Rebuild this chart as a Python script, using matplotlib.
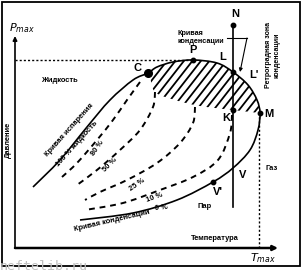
import numpy as np
import matplotlib
matplotlib.use('Agg')
import matplotlib.pyplot as plt
from matplotlib.patches import Rectangle, PathPatch
from matplotlib.path import Path

plt.rcParams['font.family'] = ['Liberation Sans', 'DejaVu Sans']

# phase envelope (T, P) in arbitrary units
env_T = [18, 45, 72, 95, 118, 133, 142, 158, 178, 202, 218, 233, 242, 245,
         243, 235, 218, 198, 162, 118, 65]
env_P = [61, 88, 121, 148, 168, 175, 181, 186, 188, 185, 176, 163, 148, 135,
         118, 98, 80, 66, 48, 35, 28]

# lower edge of retrograde (hatched) zone
retro_T = [135, 140, 160, 185, 218, 244]
retro_P = [172, 156, 148, 142, 138, 135]

# quality lines, % liquid
q80_T = [125, 112, 98, 82, 62, 47]
q80_P = [166, 148, 128, 108, 85, 71]
q50_T = [140, 138, 125, 105, 82, 62]
q50_P = [156, 141, 118, 98, 78, 63]
q25_T = [180, 178, 165, 142, 112, 85, 70]
q25_P = [141, 125, 105, 85, 68, 56, 48]
q10_T = [217, 215, 203, 178, 145, 108, 70]
q10_P = [133, 115, 88, 71, 58, 45, 38]

# points
pts = {'C': (133, 175), 'P': (178, 188), 'N': (218, 223), 'L': (218, 176),
       'K': (218, 138), 'M': (245, 135), "V'": (198, 66)}
T_iso = 218
P_iso = (223, 41)
P_max = 188
T_max = 244


def smooth(T, P):
    # cubic bezier path through the given points (Catmull-Rom style handles)
    p = np.column_stack([T, P]).astype(float)
    verts = [p[0]]
    codes = [Path.MOVETO]
    for i in range(len(p) - 1):
        a = p[i - 1] if i > 0 else p[i]
        b, c = p[i], p[i + 1]
        d = p[i + 2] if i + 2 < len(p) else p[i + 1]
        verts += [b + (c - a) / 6, c - (d - b) / 6, c]
        codes += [Path.CURVE4] * 3
    return Path(verts, codes)


fig = plt.figure(figsize=(3.03, 2.73), dpi=100)
ax = fig.add_axes([0, 0, 1, 1])
ax.set_xlim(-15, 288)
ax.set_ylim(-25, 248)
ax.axis('off')

# frame
ax.add_patch(Rectangle((-13, -18), 298, 264, fill=False, lw=1.3, ec='black'))

# axes arrows
ax.annotate('', xy=(263, 0), xytext=(0, 0),
            arrowprops=dict(arrowstyle='-|>', lw=1.8, color='black',
                            mutation_scale=7, shrinkA=0, shrinkB=0))
ax.annotate('', xy=(0, 212), xytext=(0, 0),
            arrowprops=dict(arrowstyle='-|>', lw=1.2, color='black',
                            mutation_scale=6, shrinkA=0, shrinkB=0))

# dotted max lines
ax.plot([0, pts['P'][0]], [P_max, P_max], ls=(0, (1.5, 1.5)), lw=1.0, color='black')
ax.plot([T_max, T_max], [0, pts['M'][1]], ls=(0, (1.5, 1.5)), lw=1.0, color='black')

# hatched retrograde zone: diagonal strokes clipped to the region
i0 = env_T.index(133)
i1 = env_T.index(245)
up = smooth(env_T[i0:i1 + 1], env_P[i0:i1 + 1])
lo = smooth(retro_T[::-1], retro_P[::-1])
hv = np.vstack([up.vertices, lo.vertices[1:], up.vertices[:1]])
hc = list(up.codes) + list(lo.codes[1:]) + [Path.CLOSEPOLY]
zone = PathPatch(Path(hv, hc), fill=False, lw=0)
ax.add_patch(zone)
slope = np.tan(np.radians(52))
for c in np.arange(40, 260, 8.5):
    ln, = ax.plot([c, c + 80 / slope], [120, 200], color='black', lw=1.3)
    ln.set_clip_path(zone)

# envelope
ax.add_patch(PathPatch(smooth(env_T, env_P), fill=False, ec='black', lw=1.2))

# quality lines
for qt, qp in [(q80_T, q80_P), (q50_T, q50_P), (q25_T, q25_P), (q10_T, q10_P)]:
    ax.add_patch(PathPatch(smooth(qt, qp), fill=False, ec='black', lw=1.4,
                           ls=(0, (3, 2.5))))

# isotherm N-V
ax.plot([T_iso, T_iso], P_iso, color='black', lw=1.2)

# markers
for k, (t, p) in pts.items():
    ax.plot(t, p, 'o', color='black', ms=5.5 if k == 'C' else 3.2)

# point labels
lab = dict(fontsize=8, fontweight='bold', ha='center', va='center')
ax.text(123, 180, 'C', **lab)
ax.text(178, 198, 'P', **lab)
ax.text(220, 234, 'N', **lab)
ax.text(208, 191, 'L', **lab)
ax.text(239, 173, "L'", **lab)
ax.text(211, 130, 'K', **lab)
ax.text(254, 134, 'M', **lab)
ax.text(228, 73, 'V', **lab)
ax.text(203, 56, "V'", **lab)

sm = dict(fontsize=5.4, fontweight='bold', ha='center', va='center')
ax.text(44, 168, 'Жидкость', **sm)
ax.text(200, 9, 'Температура', **sm)
ax.text(-7, 108, 'Давление', rotation=90, **sm)
ax.text(257, 80, 'Газ', **sm)
ax.text(190, 41, 'Пар', **sm)
ax.text(54, 118, 'Кривая испарения', rotation=48, **sm)
ax.text(62, 104, '100 % жидкость', rotation=48, **sm)
ax.text(83, 100, '80 %', rotation=55, **sm)
ax.text(95, 83, '50 %', rotation=45, **sm)
ax.text(122, 63, '25 %', rotation=35, **sm)
ax.text(140, 50, '10 %', rotation=20, **sm)
ax.text(146, 40, '0 %', rotation=5, **sm)
ax.text(97, 27, 'Кривая конденсации', rotation=13, **sm)
ax.text(162, 210.5, 'Кривая\nконденсации', fontsize=5.2, fontweight='bold',
        ha='left', va='center', linespacing=1.2)
ax.text(258, 193, 'Ретроградная зона\nконденсации', rotation=90, fontsize=5,
        fontweight='bold', ha='center', va='center', linespacing=1.2)

# pointer from top label to curve
ax.plot([212, 232], [210, 210], color='black', lw=0.8)
ax.annotate('', xy=(225, 176), xytext=(232, 210),
            arrowprops=dict(arrowstyle='-|>', lw=0.8, color='black',
                            mutation_scale=5, shrinkA=0, shrinkB=0))

# axis max labels
ax.text(7, 220, r'$\mathbf{\mathit{P}}_{\mathit{max}}$', fontsize=8,
        ha='center', va='center')
ax.text(248, -10, r'$\mathbf{\mathit{T}}_{\mathit{max}}$', fontsize=8,
        ha='center', va='center')

# watermark
ax.text(-15, -18, 'neftelib.ru', fontsize=9.5, color='#c0c0c0',
        family='DejaVu Sans Mono', ha='left', va='center')

fig.savefig('out.png', dpi=100)
